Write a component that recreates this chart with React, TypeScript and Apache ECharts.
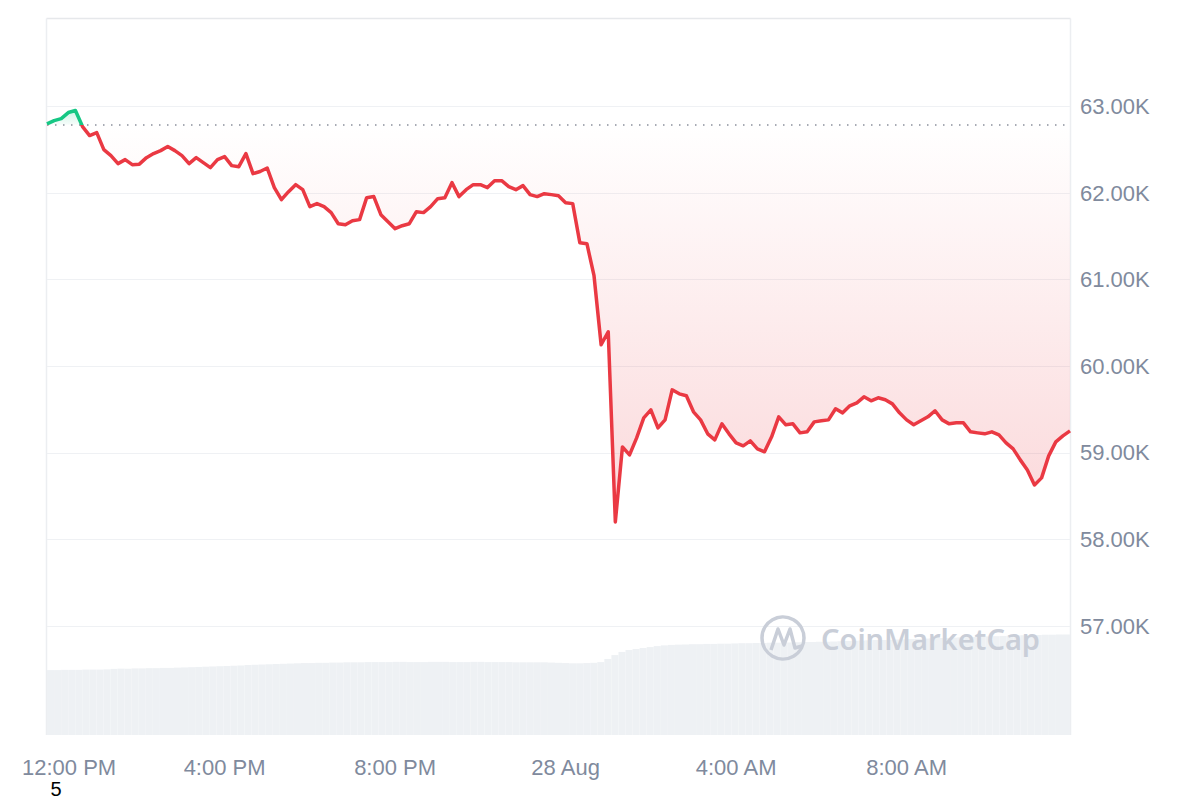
import React, { useEffect, useRef } from "react";
import * as echarts from "echarts";

// Price (USD), one point every 10 minutes from 11:50 (27 Aug) to 11:50 (28 Aug)
const priceValues = [
  62800, 62838, 62861, 62931, 62954, 62769, 62665, 62699, 62503, 62434,
  62341, 62387, 62329, 62335, 62410, 62457, 62491, 62538, 62491, 62434,
  62341, 62410, 62353, 62295, 62387, 62422, 62318, 62306, 62457, 62225,
  62250, 62290, 62064, 61925, 62017, 62098, 62040, 61844, 61879, 61844,
  61775, 61647, 61636, 61682, 61694, 61948, 61960, 61751, 61670, 61590,
  61624, 61647, 61786, 61775, 61844, 61936, 61948, 62121, 61960, 62040,
  62098, 62098, 62064, 62144, 62144, 62075, 62040, 62087, 61983, 61960,
  61994, 61983, 61971, 61890, 61879, 61428, 61416, 61046, 60249, 60399,
  58202, 59069, 58977, 59173, 59405, 59497, 59289, 59381, 59728, 59682,
  59659, 59474, 59381, 59220, 59150, 59335, 59220, 59116, 59081, 59139,
  59046, 59012, 59185, 59416, 59324, 59335, 59231, 59243, 59358, 59370,
  59381, 59509, 59462, 59543, 59578, 59647, 59601, 59636, 59613, 59566,
  59462, 59381, 59324, 59370, 59416, 59486, 59381, 59335, 59347, 59347,
  59243, 59231, 59220, 59243, 59208, 59116, 59046, 58919, 58803, 58630,
  58711, 58965, 59127, 59196, 59254,
];

// 24h volume (billion USD)
const volumeValues = [
  26.8, 26.8, 26.9, 26.9, 26.9, 27.0, 27.0, 27.0, 27.1,
  27.3, 27.4, 27.4, 27.5, 27.5, 27.6, 27.6, 27.7, 27.7, 27.8,
  27.9, 28.0, 28.1, 28.2, 28.3, 28.4, 28.5, 28.6, 28.7,
  28.9, 29.0, 29.1, 29.2, 29.3, 29.4, 29.5,
  29.6, 29.7, 29.7, 29.8, 29.8, 29.9, 29.9, 30.0, 30.0, 30.0,
  30.1, 30.1, 30.1, 30.1, 30.2, 30.2, 30.1, 30.1, 30.1, 30.2, 30.2, 30.2, 30.1,
  30.1, 30.1, 30.2, 30.2, 30.1, 30.1, 30.1, 30.1, 30.0, 30.0, 30.0, 30.0, 30.0,
  29.9, 29.8, 29.7, 29.6, 29.6, 29.7, 29.8,
  30.1, 31.4, 33.0, 34.3, 35.1, 35.5, 35.9, 36.3,
  36.7, 37.0, 37.2, 37.3,
  37.4, 37.5, 37.5, 37.6, 37.6, 37.7, 37.7, 37.8,
  37.9, 37.9, 38.0, 38.0, 38.1, 38.1, 38.2, 38.2,
  38.3, 38.4, 38.4, 38.5, 38.5, 38.6, 38.7,
  38.8, 38.9, 39.0, 39.1, 39.2, 39.2, 39.3, 39.4,
  39.5, 39.6, 39.7, 39.8, 39.9, 40.0, 40.1,
  40.2, 40.3, 40.4, 40.5, 40.6, 40.7, 40.8,
  40.9, 41.0, 41.1, 41.2, 41.3, 41.3, 41.4, 41.4, 41.5, 41.5,
];

const basePrice = 62790; // opening price of the 24h window

// x-axis tick labels, keyed by category time
const xTickTimes = ["27 12:00", "27 16:00", "27 20:00", "28 00:00", "28 04:00", "28 08:00"];
const xTickLabels = ["12:00 PM", "4:00 PM", "8:00 PM", "28 Aug", "4:00 AM", "8:00 AM"];

// category times: 10-minute steps starting 27 Aug 11:50
const categories: string[] = priceValues.map((_, i) => {
  const mins = 11 * 60 + 50 + i * 10;
  const day = 27 + Math.floor(mins / 1440);
  const m = mins % 1440;
  const hh = String(Math.floor(m / 60)).padStart(2, "0");
  const mm = String(m % 60).padStart(2, "0");
  return `${day} ${hh}:${mm}`;
});

const RED = "#ea3943";
const GREEN = "#16c784";
const LABEL = "#808a9d";
const GRID = "#eff1f4";
const FONT = "'Liberation Sans', Arial, Helvetica, sans-serif";

export default function App() {
  const ref = useRef<HTMLDivElement>(null);

  useEffect(() => {
    document.body.style.margin = "0";
    if (!ref.current) return;
    const chart = echarts.init(ref.current, null, { renderer: "svg" });

    const labelMap: Record<string, string> = {};
    xTickTimes.forEach((t, i) => (labelMap[t] = xTickLabels[i]));

    const redArea = priceValues.map((v) => Math.min(v, basePrice));
    const greenArea = priceValues.map((v) => Math.max(v, basePrice));

    chart.setOption({
      animation: false,
      backgroundColor: "#ffffff",
      grid: [
        { left: 47, right: 130, top: 20, height: 606, containLabel: false, outerBoundsMode: "none" },
        { left: 47, right: 130, top: 626, bottom: 65, containLabel: false, outerBoundsMode: "none" },
      ],
      xAxis: [
        {
          type: "category",
          gridIndex: 0,
          data: categories,
          boundaryGap: false,
          axisLine: { show: false },
          axisTick: { show: false },
          splitLine: { show: false },
          axisLabel: {
            margin: 130,
            color: LABEL,
            fontSize: 22,
            fontFamily: FONT,
            interval: (_idx: number, value: string) => value in labelMap,
            formatter: (value: string) =>
              value === xTickTimes[0]
                ? `{first|${labelMap[value]}}`
                : labelMap[value] || "",
            rich: {
              first: {
                padding: [0, 0, 0, 30],
                color: LABEL,
                fontSize: 22,
                fontFamily: FONT,
              },
            },
          },
        },
        {
          type: "category",
          gridIndex: 1,
          data: categories,
          boundaryGap: true,
          axisLine: { show: false },
          axisTick: { show: false },
          axisLabel: { show: false },
          splitLine: { show: false },
        },
      ],
      yAxis: [
        {
          type: "value",
          gridIndex: 0,
          position: "right",
          min: 57000,
          max: 64000,
          interval: 1000,
          axisLine: { show: false },
          axisTick: { show: false },
          splitLine: { show: true, showMaxLine: false, lineStyle: { color: GRID, width: 1 } },
          axisLabel: {
            margin: 10,
            color: LABEL,
            fontSize: 22,
            fontFamily: FONT,
            showMaxLabel: false,
            formatter: (v: number) => (v / 1000).toFixed(2) + "K",
          },
        },
        {
          type: "value",
          gridIndex: 1,
          min: 0,
          max: 45,
          show: false,
          splitLine: { show: false },
        },
      ],
      visualMap: {
        type: "piecewise",
        show: false,
        seriesIndex: 3,
        dimension: 1,
        pieces: [
          { gte: basePrice, lte: 100000, color: GREEN },
          { gte: 0, lt: basePrice, color: RED },
        ],
        outOfRange: { color: RED },
      },
      series: [
        {
          type: "bar",
          xAxisIndex: 1,
          yAxisIndex: 1,
          data: volumeValues,
          barCategoryGap: "0%",
          itemStyle: { color: "#eef1f4" },
          silent: true,
        },
        {
          type: "line",
          xAxisIndex: 0,
          yAxisIndex: 0,
          data: redArea,
          symbol: "none",
          lineStyle: { width: 0, opacity: 0 },
          areaStyle: {
            origin: basePrice,
            color: new echarts.graphic.LinearGradient(0, 0, 0, 1, [
              { offset: 0, color: "rgba(234,57,67,0)" },
              { offset: 1, color: "rgba(234,57,67,0.28)" },
            ]),
          },
          silent: true,
        },
        {
          type: "line",
          xAxisIndex: 0,
          yAxisIndex: 0,
          data: greenArea,
          symbol: "none",
          lineStyle: { width: 0, opacity: 0 },
          areaStyle: {
            origin: basePrice,
            color: new echarts.graphic.LinearGradient(0, 0, 0, 1, [
              { offset: 0, color: "rgba(22,199,132,0.3)" },
              { offset: 1, color: "rgba(22,199,132,0.05)" },
            ]),
          },
          silent: true,
        },
        {
          type: "line",
          xAxisIndex: 0,
          yAxisIndex: 0,
          data: priceValues,
          symbol: "none",
          lineStyle: { width: 3.5, join: "round" },
          z: 5,
          markLine: {
            silent: true,
            symbol: ["none", "none"],
            label: { show: false },
            lineStyle: { type: [1.5, 6.5], color: "#8a909c", width: 1.5 },
            data: [{ yAxis: basePrice }],
          },
        },
      ],
      graphic: [
        {
          type: "line",
          silent: true,
          shape: { x1: 46.5, y1: 18.5, x2: 1070.5, y2: 18.5 },
          style: { stroke: "#e6e8eb", lineWidth: 1.5 },
        },
        {
          type: "line",
          silent: true,
          shape: { x1: 46.5, y1: 18.5, x2: 46.5, y2: 735 },
          style: { stroke: "#eceef1", lineWidth: 1.5 },
        },
        {
          type: "line",
          silent: true,
          shape: { x1: 1070.5, y1: 18.5, x2: 1070.5, y2: 735 },
          style: { stroke: "#eceef1", lineWidth: 1.5 },
        },
        {
          type: "circle",
          silent: true,
          shape: { cx: 783, cy: 638, r: 21 },
          style: { fill: "none", stroke: "#c9ced8", lineWidth: 3.5 },
          z: 10,
        },
        {
          type: "polyline",
          silent: true,
          shape: {
            points: [
              [771, 650],
              [778, 629],
              [784, 645],
              [790, 629],
              [795, 648],
              [802, 646],
            ],
          },
          style: { fill: "none", stroke: "#c9ced8", lineWidth: 3.5, lineJoin: "round" },
          z: 10,
        },
        {
          type: "text",
          silent: true,
          x: 821,
          y: 638,
          style: {
            text: "CoinMarketCap",
            fill: "#c9ced8",
            fontSize: 29,
            fontWeight: 600,
            fontFamily: "'Noto Sans', 'Open Sans', sans-serif",
            textAlign: "left",
            textVerticalAlign: "middle",
          },
          z: 10,
        },
        {
          type: "text",
          silent: true,
          x: 56,
          y: 789,
          style: {
            text: "5",
            fill: "#000000",
            fontSize: 20,
            lineHeight: 20,
            fontFamily: FONT,
            textAlign: "center",
            textVerticalAlign: "middle",
          },
          z: 10,
        },
      ],
    });

    return () => chart.dispose();
  }, []);

  return <div ref={ref} style={{ width: 1200, height: 800 }} />;
}
